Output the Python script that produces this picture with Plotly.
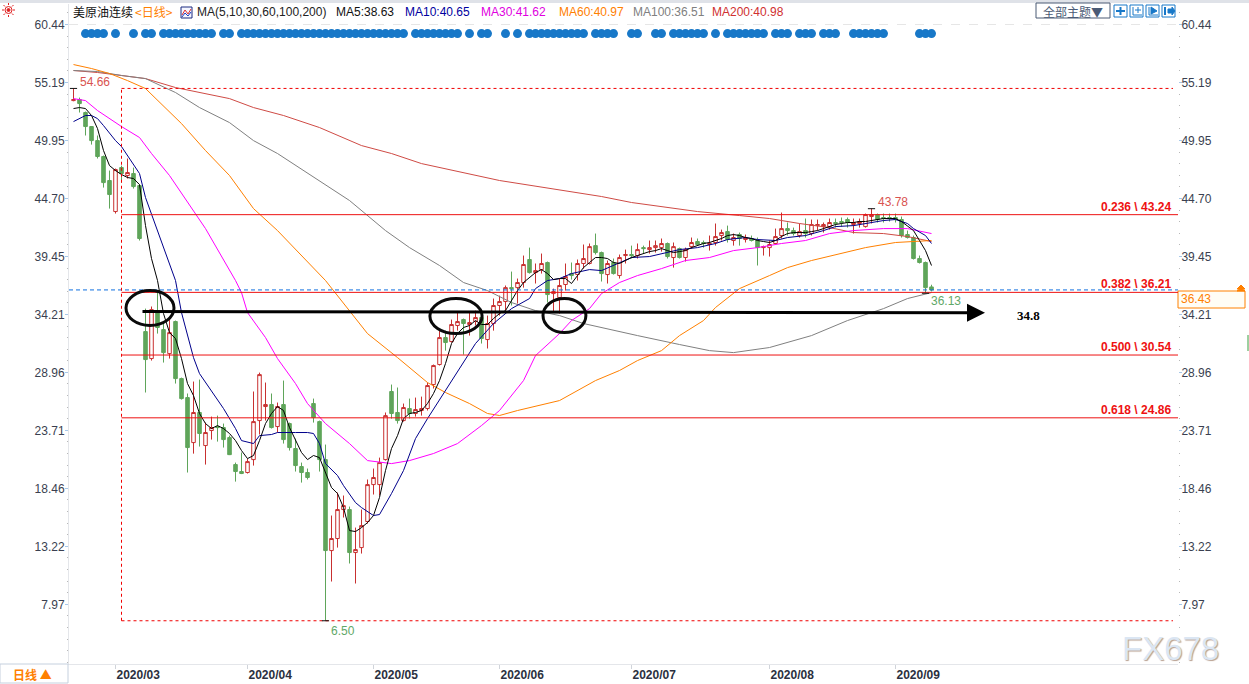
#!/usr/bin/env python3
"""
WTI continuous daily candles with moving averages and fibonacci levels.
"""

import plotly.graph_objects as go

# Daily candles, one per trading day starting Feb 2020
opens = [
    53.56, 53.65, 52.48, 51.21, 49.94, 48.50, 46.33, 43.52, 47.50, 46.78,
    46.96, 45.87, 32.66, 30.22, 34.56, 32.84, 30.67, 33.57, 28.41, 26.69,
    22.62, 25.34, 22.35, 23.71, 24.07, 23.98, 23.07, 20.63, 20.00, 19.91,
    21.08, 24.61, 25.88, 26.06, 24.07, 26.06, 24.34, 22.08, 20.45, 19.91,
    26.15, 24.52, 21.08, 12.85, 13.94, 16.56, 16.56, 12.67, 13.12, 15.48,
    18.82, 18.82, 21.08, 27.24, 25.34, 24.61, 25.70, 25.25, 25.52, 25.70,
    27.87, 29.68, 32.12, 31.76, 33.21, 33.75, 33.30, 33.57, 33.93, 31.94,
    33.39, 35.02, 35.38, 36.64, 36.64, 37.10, 39.18, 38.00, 38.27, 38.91,
    36.10, 35.74, 36.92, 37.91, 37.82, 38.82, 38.82, 40.44, 39.81, 37.82,
    38.91, 37.73, 39.54, 39.63, 39.54, 40.26, 40.08, 40.26, 40.26, 40.63,
    39.36, 40.17, 39.36, 40.35, 40.81, 40.72, 40.54, 40.72, 41.35, 41.71,
    40.90, 41.44, 40.99, 41.08, 40.90, 40.26, 40.26, 40.63, 41.35, 41.98,
    41.80, 41.35, 41.80, 41.53, 42.25, 42.16, 42.16, 42.53, 42.62, 42.80,
    42.35, 42.44, 42.16, 43.07, 43.25, 42.98, 42.98, 42.98, 42.80, 41.44,
    41.17, 39.27, 38.91, 36.70,
]
highs = [
    54.66, 53.83, 52.57, 51.25, 50.40, 48.59, 47.23, 47.41, 47.68, 48.32,
    47.50, 45.96, 34.74, 34.93, 36.19, 33.39, 33.75, 33.66, 28.50, 27.06,
    28.14, 28.32, 24.43, 24.97, 25.06, 24.34, 23.25, 20.81, 21.72, 21.17,
    27.24, 28.95, 28.05, 27.06, 26.24, 28.23, 24.43, 22.98, 20.81, 20.27,
    26.60, 24.61, 22.44, 16.02, 18.10, 17.83, 16.83, 14.93, 16.56, 19.28,
    20.27, 21.26, 25.34, 27.87, 27.60, 26.15, 26.60, 26.69, 26.78, 28.05,
    29.68, 32.93, 32.75, 33.75, 34.38, 33.84, 34.38, 34.56, 34.02, 34.11,
    35.65, 35.92, 36.83, 38.09, 37.46, 39.54, 40.26, 38.82, 39.72, 39.00,
    36.55, 37.46, 38.82, 38.91, 39.18, 40.54, 40.63, 41.53, 39.90, 39.09,
    39.27, 39.63, 40.08, 40.44, 40.63, 40.44, 40.90, 40.90, 41.08, 40.72,
    40.72, 40.26, 40.26, 41.17, 41.08, 40.90, 41.35, 42.44, 41.89, 42.25,
    41.53, 41.62, 41.44, 41.35, 41.17, 40.44, 40.90, 41.98, 43.43, 42.53,
    42.07, 42.44, 42.89, 42.80, 42.80, 42.53, 42.89, 42.89, 42.98, 42.98,
    42.89, 42.89, 43.34, 43.78, 43.34, 43.34, 43.34, 43.34, 43.07, 41.80,
    41.35, 39.54, 39.00, 36.90,
]
lows = [
    53.50, 52.48, 50.40, 49.58, 48.32, 45.69, 43.79, 43.34, 46.14, 46.51,
    45.60, 40.90, 27.15, 30.04, 32.48, 29.86, 30.22, 27.96, 26.51, 19.91,
    21.62, 22.26, 20.63, 22.89, 22.71, 22.17, 21.49, 19.09, 19.77, 19.82,
    20.54, 23.35, 24.61, 23.89, 23.53, 22.53, 21.90, 20.00, 19.00, 19.28,
    24.43, 20.00, 6.50, 10.05, 13.12, 15.84, 11.68, 9.87, 12.58, 15.29,
    17.92, 17.83, 20.99, 24.79, 24.34, 24.52, 24.79, 24.97, 25.06, 25.52,
    27.51, 29.59, 30.94, 31.67, 32.75, 30.58, 32.30, 33.21, 31.58, 31.13,
    32.75, 34.11, 34.56, 35.02, 35.20, 36.64, 37.91, 37.01, 37.91, 35.29,
    34.38, 34.29, 36.37, 37.37, 37.28, 38.36, 38.73, 39.63, 37.19, 37.01,
    37.82, 37.46, 38.82, 39.27, 39.27, 39.72, 39.72, 39.81, 39.90, 39.27,
    38.45, 39.27, 39.00, 40.17, 40.44, 40.26, 39.99, 40.44, 40.90, 40.72,
    40.44, 40.44, 40.72, 40.81, 38.64, 39.54, 39.45, 40.54, 41.08, 41.35,
    41.35, 41.17, 41.17, 41.35, 41.80, 41.62, 41.89, 42.07, 42.16, 42.07,
    41.53, 42.07, 42.07, 42.44, 42.53, 42.53, 42.62, 42.53, 41.17, 41.08,
    39.18, 38.82, 36.13, 36.30,
]
closes = [
    53.65, 53.29, 51.21, 49.94, 48.50, 46.14, 45.06, 47.32, 46.96, 47.05,
    45.78, 41.08, 30.13, 34.65, 33.03, 30.76, 32.57, 28.41, 26.60, 22.17,
    25.34, 23.44, 23.53, 23.98, 23.98, 22.89, 21.53, 20.00, 19.82, 20.90,
    24.52, 28.77, 26.06, 23.98, 25.88, 22.89, 22.17, 20.54, 19.91, 19.46,
    24.88, 21.08, 12.85, 13.94, 16.56, 16.92, 12.67, 12.94, 15.11, 18.82,
    19.46, 20.81, 25.06, 25.25, 24.61, 25.79, 25.25, 25.61, 25.70, 27.78,
    29.59, 32.12, 31.67, 33.30, 33.57, 33.39, 33.48, 33.93, 32.03, 33.39,
    35.02, 35.38, 36.64, 36.55, 37.10, 38.73, 38.00, 38.18, 38.82, 36.01,
    36.28, 36.83, 37.64, 37.73, 38.82, 39.27, 40.35, 39.81, 37.91, 38.82,
    37.91, 39.36, 39.63, 39.54, 40.08, 40.17, 40.26, 40.44, 40.63, 39.45,
    40.35, 39.36, 40.08, 40.72, 40.54, 40.63, 40.63, 41.26, 41.62, 40.99,
    41.17, 41.08, 41.17, 40.90, 40.26, 40.35, 40.54, 41.26, 41.98, 41.80,
    41.53, 41.71, 41.53, 42.35, 42.35, 42.35, 42.53, 42.44, 42.53, 42.53,
    42.53, 42.62, 43.25, 43.25, 42.80, 42.89, 42.89, 42.80, 41.35, 41.17,
    39.27, 38.91, 36.64, 36.43,
]

# Moving averages
ma5 = [
    52.84, 52.93, 52.84, 52.21, 51.03, 49.04, 47.68, 47.23, 46.87, 46.60,
    46.51, 45.96, 42.25, 39.27, 37.28, 34.29, 32.57, 32.03, 30.22, 27.96,
    26.87, 25.25, 24.34, 23.89, 24.16, 23.89, 23.44, 22.80, 21.90, 21.17,
    21.45, 22.80, 24.34, 25.25, 25.88, 25.52, 23.98, 22.80, 21.72, 21.08,
    21.45, 21.26, 19.82, 18.55, 18.01, 16.74, 14.66, 14.57, 14.93, 15.38,
    16.02, 17.65, 20.09, 22.08, 23.25, 24.79, 25.25, 25.34, 25.52, 26.15,
    27.06, 28.23, 29.77, 31.58, 32.48, 33.03, 33.21, 33.66, 33.30, 33.30,
    33.84, 34.29, 34.56, 35.47, 36.37, 37.10, 37.55, 38.00, 38.27, 37.91,
    37.37, 37.46, 37.46, 37.01, 37.73, 38.45, 38.91, 39.36, 39.36, 39.27,
    38.91, 38.82, 39.09, 39.36, 39.54, 39.72, 39.90, 39.99, 40.17, 39.99,
    39.81, 39.90, 39.99, 40.26, 40.44, 40.63, 40.72, 40.90, 41.08, 41.35,
    41.44, 41.35, 41.17, 41.08, 40.90, 40.81, 40.72, 40.90, 41.26, 41.53,
    41.62, 41.62, 41.62, 41.71, 41.80, 41.98, 42.16, 42.35, 42.44, 42.53,
    42.53, 42.62, 42.62, 42.71, 42.80, 42.89, 42.89, 42.89, 42.62, 42.25,
    41.80, 40.90, 39.99, 38.64,
]
ma10_days = [
    0, 1, 2, 3, 4, 5, 6, 7, 8, 9, 10, 11, 12, 14, 17, 18, 20, 21, 23, 25,
    27, 28, 30, 31, 33, 34, 37, 39, 40, 41, 42, 44, 45, 47, 48, 50, 51, 53,
    55, 57, 59, 62, 63, 65, 67, 70, 73, 76, 77, 79, 81, 83, 86, 88, 91, 93,
    96, 98, 101, 104, 107, 109, 112, 114, 117, 119, 122, 125, 127, 130, 132,
    135, 137, 139, 140, 142, 143,
]
ma10 = [
    51.66, 51.93, 52.21, 52.21, 51.93, 51.30, 50.58, 49.94, 49.40, 48.59,
    47.68, 46.96, 44.79, 41.80, 37.28, 34.38, 30.31, 28.86, 27.33, 25.70,
    23.89, 22.80, 22.53, 23.25, 23.35, 23.53, 23.53, 23.53, 23.44, 22.53,
    20.72, 19.64, 18.73, 17.19, 16.74, 16.02, 16.11, 18.01, 20.09, 22.98,
    24.79, 27.33, 28.23, 29.86, 31.58, 33.39, 34.74, 35.65, 36.55, 37.28,
    37.46, 37.91, 38.27, 38.18, 38.91, 39.36, 39.45, 39.72, 40.08, 40.26,
    40.63, 40.99, 41.17, 40.99, 40.90, 41.17, 41.35, 41.80, 42.16, 42.25,
    42.44, 42.71, 42.80, 42.44, 41.98, 41.35, 40.63,
]
ma30_days = [
    0, 2, 4, 8, 11, 13, 16, 18, 22, 27, 28, 29, 32, 34, 37, 39, 42, 46, 49,
    53, 56, 60, 64, 68, 71, 75, 77, 81, 83, 86, 88, 91, 94, 98, 102, 106,
    110, 114, 118, 122, 126, 130, 135, 139, 143,
]
ma30 = [
    53.74, 53.56, 52.66, 51.21, 50.22, 48.77, 46.78, 45.15, 41.98, 37.28,
    36.19, 34.38, 32.12, 30.22, 27.96, 26.15, 24.34, 22.53, 20.99, 20.72,
    20.99, 21.63, 22.53, 24.16, 25.52, 28.23, 30.49, 32.48, 33.66, 34.74,
    36.10, 37.10, 37.73, 38.36, 39.09, 39.36, 39.99, 40.26, 40.63, 40.90,
    41.53, 41.80, 41.98, 41.98, 41.53,
]
ma60_days = [
    0, 3, 6, 9, 12, 15, 18, 22, 26, 30, 34, 42, 46, 49, 54, 59, 62, 66, 69,
    71, 74, 81, 87, 91, 94, 98, 101, 105, 107, 111, 116, 119, 123, 128, 132,
    137, 143,
]
ma60 = [
    56.82, 56.46, 56.01, 55.37, 54.65, 53.11, 51.48, 49.04, 46.78, 43.79,
    41.80, 37.28, 34.56, 32.48, 30.31, 28.05, 27.15, 26.15, 25.25, 25.07,
    25.52, 26.42, 28.23, 29.14, 30.04, 30.94, 32.30, 33.66, 34.84, 36.55,
    37.73, 38.45, 39.09, 39.72, 40.26, 40.72, 40.90,
]
ma100_days = [
    0, 4, 8, 12, 17, 21, 26, 30, 34, 41, 46, 52, 56, 61, 65, 69, 73, 77, 81,
    85, 90, 94, 101, 106, 110, 116, 123, 129, 135, 139, 143,
]
ma100 = [
    56.28, 56.19, 55.83, 55.55, 54.29, 52.93, 51.57, 49.94, 48.77, 46.33,
    44.52, 41.80, 40.26, 38.64, 37.10, 36.37, 35.29, 34.56, 34.11, 33.39,
    32.75, 32.30, 31.49, 30.94, 30.76, 31.22, 32.30, 33.66, 34.74, 35.65,
    36.19,
]
ma200_days = [
    0, 4, 8, 12, 17, 21, 26, 30, 35, 41, 48, 53, 58, 71, 88, 93, 99, 104,
    111, 116, 121, 126, 130, 135, 139, 143,
]
ma200 = [
    56.28, 56.10, 55.83, 55.55, 54.74, 54.29, 53.74, 52.93, 52.21, 51.12,
    49.49, 48.77, 47.86, 46.33, 44.88, 44.34, 43.88, 43.52, 43.16, 42.89,
    42.44, 42.07, 41.62, 41.53, 41.26, 40.81,
]

# Signal row above the candles
signal_days = [
    2, 3, 4, 5, 7, 10, 12, 13, 15, 16, 17, 18, 19, 20, 21, 22, 23, 25, 26,
    28, 29, 30, 31, 32, 33, 34, 35, 36, 37, 38, 39, 40, 41, 42, 43, 44, 45,
    46, 47, 48, 49, 50, 51, 52, 53, 54, 55, 57, 58, 59, 60, 61, 62, 63, 64,
    66, 68, 69, 72, 74, 76, 77, 78, 79, 80, 81, 82, 83, 84, 85, 87, 88, 89,
    90, 93, 94, 97, 98, 100, 101, 102, 103, 104, 105, 107, 109, 110, 111,
    112, 113, 114, 115, 117, 118, 119, 121, 122, 123, 125, 126, 127, 130,
    131, 132, 133, 134, 135, 141, 142, 143,
]
signal_level = 59.62

y_ticks = [60.44, 55.19, 49.95, 44.70, 39.45, 34.21, 28.96, 23.71, 18.46, 13.22, 7.97]
month_days = [7, 29, 50, 71, 93, 116, 137]
month_labels = ["2020/03", "2020/04", "2020/05", "2020/06", "2020/07", "2020/08", "2020/09"]

fib_levels = [43.24, 36.21, 30.54, 24.86]
fib_labels = ["0.236 \\ 43.24", "0.382 \\ 36.21", "0.500 \\ 30.54", "0.618 \\ 24.86"]
swing_day = 8
swing_high = 54.66
swing_low = 6.50
last_price = 36.43
arrow_level = 34.47

header_items = [
    ("MA5:38.63", "#111111", 334),
    ("MA10:40.65", "#0000a0", 403),
    ("MA30:41.62", "#e000e0", 479),
    ("MA60:40.97", "#ff8000", 557),
    ("MA100:36.51", "#808080", 631),
    ("MA200:40.98", "#d03030", 710),
]

# Plot area in page pixels
LEFT, RIGHT, TOP, BOTTOM = 69, 1178, 4, 664
WIDTH, HEIGHT = 1249, 684
FONT = "Liberation Sans, Arial, sans-serif"
CJK = "Noto Sans CJK SC, sans-serif"
RED = "#c83030"
GREEN = "#5fa55a"
FIB_RED = "#ee1111"
BLUE = "#1878c8"


def px(x):
    return (x - LEFT) / (RIGHT - LEFT)


def py(y):
    return 1 - (y - TOP) / (BOTTOM - TOP)


def label(text, x, y, color, size=12, anchor="left", family=FONT, **font_extra):
    return dict(
        text=text, x=px(x), y=py(y), xref="paper", yref="paper",
        xanchor=anchor, yanchor="middle", showarrow=False,
        font=dict(family=family, size=size, color=color, **font_extra),
    )


def box(x0, y0, x1, y1, line=None, fill=None, width=1):
    return dict(
        type="rect", xref="paper", yref="paper",
        x0=px(x0), x1=px(x1), y0=py(y0), y1=py(y1),
        line=dict(color=line, width=width if line else 0), fillcolor=fill,
    )


def stroke(x0, y0, x1, y1, color, width=1):
    return dict(
        type="line", xref="paper", yref="paper",
        x0=px(x0), x1=px(x1), y0=py(y0), y1=py(y1),
        line=dict(color=color, width=width),
    )


def poly(points, color, fill=None, width=1):
    path = "M " + " L ".join(f"{px(a)} {py(b)}" for a, b in points)
    if fill:
        path += " Z"
    return dict(type="path", xref="paper", yref="paper", path=path,
                line=dict(color=color, width=width), fillcolor=fill)


def chrome_shapes():
    """Window furniture: top strip, buttons, sun icon, price box"""
    shapes = [
        box(0, 0, 1249, 3, fill="#dfe2e8"),
        box(0, 664, 68, 683, line="#c5d0de"),
        box(1036, 3, 1110, 18, line="#4a5a75"),
        box(1178, 291, 1245, 308, line="#ff8000", fill="#fffdf5"),
        stroke(1248, 335, 1248, 351, "#3aa040", 1),
        # price box arrows
        poly([(1237, 289), (1241, 285), (1245, 289)], "#ff8000", "#ff8000"),
        poly([(1237, 291), (1241, 288), (1245, 291)], "#ff8000", "#ff8000"),
        # indicator icon
        box(181, 7, 192, 18, line="#1a2a80", fill="#f4f6ff"),
        poly([(182, 15), (185, 10), (188, 14), (191, 9)], "#e03030"),
        poly([(182, 17), (185, 13), (188, 16), (191, 12)], "#2040c0"),
        # sun icon
        dict(type="circle", xref="paper", yref="paper", x0=px(5), x1=px(12),
             y0=py(6.5), y1=py(13.5), line=dict(color="#e02020", width=1)),
        dict(type="circle", xref="paper", yref="paper", x0=px(7), x1=px(10),
             y0=py(8.5), y1=py(11.5), line=dict(color="#e02020", width=1),
             fillcolor="#e02020"),
        stroke(2, 10, 4, 10, "#e02020"),
        stroke(13, 10, 15, 10, "#e02020"),
        stroke(8.5, 3, 8.5, 5, "#e02020"),
        stroke(8.5, 15, 8.5, 17, "#e02020"),
        stroke(3.5, 5, 5, 6.5, "#e02020"),
        stroke(12, 13.5, 13.5, 15, "#e02020"),
        stroke(13.5, 5, 12, 6.5, "#e02020"),
        stroke(5, 13.5, 3.5, 15, "#e02020"),
    ]
    # four toolbar icons
    for x0 in [1114, 1130, 1146, 1162]:
        shapes.append(box(x0, 5, x0 + 13, 17, line=BLUE))
    shapes += [
        stroke(1120.5, 7, 1120.5, 15, BLUE, 2),
        stroke(1116, 11, 1125, 11, BLUE, 2),
        stroke(1133, 7, 1133, 15, BLUE),
        stroke(1133, 15, 1142, 15, BLUE),
        stroke(1135, 10, 1141, 10, BLUE),
        stroke(1138, 7, 1138, 13, BLUE),
        stroke(1149, 7, 1149, 15, BLUE),
        stroke(1149, 15, 1158, 15, BLUE),
        poly([(1151, 7), (1157, 11), (1151, 14)], BLUE, BLUE),
        stroke(1165, 7, 1165, 15, BLUE, 2),
        poly([(1168, 9), (1172, 9), (1172, 7), (1175, 11), (1172, 15), (1172, 13), (1168, 13)], BLUE, BLUE),
    ]
    return shapes


def chart_shapes():
    """Fibonacci box, levels and the hand drawn ellipses"""
    end_day = (RIGHT - 73.5) / 6
    dash_end = (1173 - 73.5) / 6
    shapes = [
        dict(type="line", x0=-0.75, x1=end_day, y0=60.44, y1=60.44,
             line=dict(color="#e6e6e6", width=1, dash="dash")),
        dict(type="line", x0=-0.75, x1=end_day, y0=last_price, y1=last_price,
             line=dict(color="#0f6fe0", width=1, dash="4px,3px")),
        dict(type="line", x0=swing_day, x1=dash_end, y0=swing_high, y1=swing_high,
             line=dict(color="#f00000", width=1, dash="3px,3px")),
        dict(type="line", x0=swing_day, x1=dash_end, y0=swing_low, y1=swing_low,
             line=dict(color="#f00000", width=1, dash="3px,3px")),
        dict(type="line", x0=swing_day, x1=swing_day, y0=swing_low, y1=swing_high,
             line=dict(color="#f00000", width=1, dash="3px,3px")),
    ]
    for level in fib_levels:
        shapes.append(dict(type="line", x0=swing_day, x1=end_day, y0=level, y1=level,
                           line=dict(color=FIB_RED, width=1)))
    for x0, x1, y0, y1 in [(8.75, 16.75, 33.21, 36.37), (59.4, 68.1, 32.48, 35.65), (78.25, 85.4, 32.57, 35.65)]:
        shapes.append(dict(type="circle", x0=x0, x1=x1, y0=y0, y1=y1,
                           line=dict(color="#0a0a0a", width=3)))
    # cross hairs at the extremes
    for day, level in [(0, swing_high), (42, swing_low), (133, 43.78), (142, 36.13)]:
        shapes.append(dict(type="line", x0=day - 0.6, x1=day + 0.6, y0=level, y1=level,
                           line=dict(color="#111111", width=1)))
    return shapes


def chart_annotations():
    items = [
        label("美原油连续", 71, 12, "#111111", 12, family=CJK),
        label("<日线>", 133, 12, "#ff8000", 12, family=CJK),
        label("MA(5,10,30,60,100,200)", 195, 12, "#222222", 12),
        label("全部主题▼", 1073, 11, "#4a5a75", 12, anchor="center", family=CJK),
        label("54.66", 78, 82, "#d9534f", 12),
        label("43.78", 876, 202, "#d9534f", 12),
        label("36.13", 929, 301, "#5fa868", 12),
        label("6.50", 329, 631, "#5fa868", 12),
        label("34.8", 1015, 316, "#000000", 13, family="Liberation Serif, serif", weight="bold"),
        label("36.43", 1179, 299, "#ff8000", 12),
        label("日线 ▲", 32, 674, "#ff8000", 12, anchor="center", family=CJK, weight="bold"),
        label("FX678", 1120, 648, "#dbe6f3", 33, shadow="1px 1px 1px #b8a090"),
    ]
    for text, color, x in header_items:
        items.append(label(text, x, 12, color, 12))
    for text, level in zip(fib_labels, fib_levels):
        items.append(dict(
            text=f"<b>{text}</b>", x=px(1173), y=level, xref="paper", yref="y",
            xanchor="right", yanchor="bottom", showarrow=False, yshift=-1,
            font=dict(family=FONT, size=12, color=FIB_RED),
        ))
    # the long support arrow
    items.append(dict(
        x=(985 - 73.5) / 6, y=arrow_level - 0.1, ax=(141 - 73.5) / 6, ay=arrow_level,
        xref="x", yref="y", axref="x", ayref="y", text="", showarrow=True,
        arrowhead=2, arrowsize=1.2, arrowwidth=3, arrowcolor="#000000",
    ))
    return items


def create_figure():
    days = list(range(len(closes)))
    fig = go.Figure()

    fig.add_trace(go.Candlestick(
        x=days, open=opens, high=highs, low=lows, close=closes,
        increasing=dict(line=dict(color=RED, width=1), fillcolor="#ffffff"),
        decreasing=dict(line=dict(color=GREEN, width=1), fillcolor=GREEN),
        whiskerwidth=0, showlegend=False,
    ))

    ma_lines = [
        ("MA200", ma200_days, ma200, "#cf4b45"),
        ("MA100", ma100_days, ma100, "#808080"),
        ("MA60", ma60_days, ma60, "#ff8000"),
        ("MA30", ma30_days, ma30, "#ff00ff"),
        ("MA10", ma10_days, ma10, "#00008b"),
        ("MA5", days, ma5, "#000000"),
    ]
    for name, x_vals, y_vals, color in ma_lines:
        fig.add_trace(go.Scatter(
            x=x_vals, y=y_vals, mode="lines", name=name,
            line=dict(color=color, width=1), showlegend=False,
        ))

    fig.add_trace(go.Scatter(
        x=signal_days, y=[signal_level] * len(signal_days), mode="markers",
        marker=dict(color=BLUE, size=9), showlegend=False,
    ))

    # empty trace so the right hand price axis gets drawn
    fig.add_trace(go.Scatter(x=[0], y=[last_price], yaxis="y2", mode="none", showlegend=False))

    y_range = [62.66 - 0.09047 * BOTTOM, 62.66 - 0.09047 * TOP]
    axis_y = dict(
        range=y_range, tickmode="array", tickvals=y_ticks, tickformat=".2f",
        showgrid=False, zeroline=False, ticks="outside", ticklen=3,
        tickcolor="#a8c8e8", tickfont=dict(family=FONT, size=12, color="#3a3f50"),
        minor=dict(tick0=60.44, dtick=1.049, ticks="outside", ticklen=1, tickcolor="#b8b8b8"),
    )

    fig.update_layout(
        width=WIDTH, height=HEIGHT, autosize=False,
        margin=dict(l=LEFT, r=WIDTH - RIGHT, t=TOP, b=HEIGHT - BOTTOM, pad=0, autoexpand=False),
        paper_bgcolor="white", plot_bgcolor="white",
        boxgap=0.15, hovermode="closest", showlegend=False,
        xaxis=dict(
            range=[(LEFT - 73.5) / 6, (RIGHT - 73.5) / 6], rangeslider=dict(visible=False),
            tickmode="array", tickvals=month_days,
            ticktext=[f"<b>{m}</b>" for m in month_labels],
            ticklabelposition="outside right", ticks="outside", ticklen=4,
            tickcolor="#d0d4da", showgrid=False, zeroline=False,
            showline=True, linecolor="#e4e6ea",
            tickfont=dict(family=FONT, size=12, color="#2b3040"),
        ),
        yaxis=dict(showline=True, linecolor="#e4e6ea", ticklabelstandoff=-2, **axis_y),
        yaxis2=dict(overlaying="y", side="right", matches="y", anchor="x", ticklabelstandoff=-3, **axis_y),
        shapes=chrome_shapes() + chart_shapes(),
        annotations=chart_annotations(),
    )
    return fig


def main():
    fig = create_figure()
    # body margin would push the fixed-size figure off the window
    fig.write_html(
        "out.html",
        config={"displayModeBar": False},
        post_script="document.body.style.margin='0';document.documentElement.style.overflow='hidden';",
    )


if __name__ == "__main__":
    main()
